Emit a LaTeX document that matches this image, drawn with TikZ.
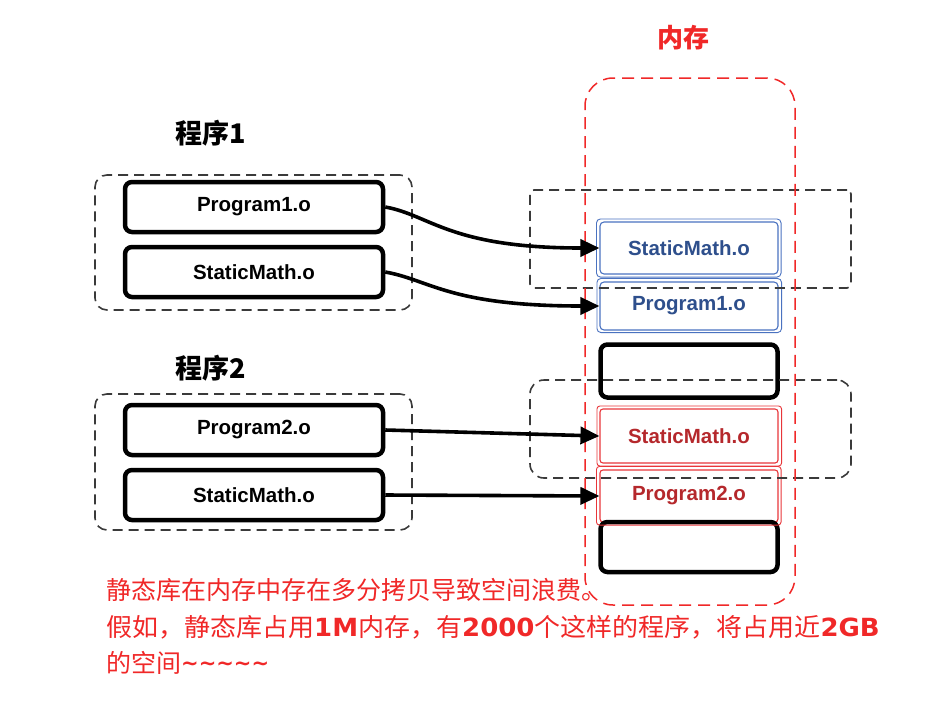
\documentclass[tikz,border=0pt]{standalone}
\usepackage{fontspec}
\setmainfont{Liberation Sans}
\newfontfamily\cjk{Noto Sans CJK SC}
\newfontfamily\latb{DejaVu Sans}
\usetikzlibrary{arrows.meta}
\definecolor{blueline}{HTML}{4A72C0}
\definecolor{bluetext}{HTML}{2E4F8C}
\definecolor{redline}{HTML}{E8363A}
\definecolor{redtext}{HTML}{B5282C}
\definecolor{dashgray}{HTML}{3A3A3A}
\definecolor{memred}{HTML}{F02828}
\begin{document}
\begin{tikzpicture}[x=1pt,y=-1pt,
  lbl/.style={font=\fontsize{20.5}{22}\selectfont\bfseries},
  blk/.style={draw=black, line width=4.5pt, rounded corners=7pt, inner sep=0pt, lbl},
  bluebox/.style={draw=blueline, line width=1.1pt, rounded corners=4pt, inner sep=0pt, lbl, text=bluetext, minimum width=178pt},
  redbox/.style={draw=redline, line width=1.1pt, rounded corners=3pt, inner sep=0pt, lbl, text=redtext, minimum width=178pt},
  grp/.style={draw=dashgray, line width=1.6pt, dash pattern=on 10pt off 6pt, rounded corners=12pt, inner sep=0pt},
  arr/.style={draw=black, line width=3.6pt, -{Triangle[length=19pt,width=17pt]}},
  ttl/.style={font=\cjk\bfseries\fontsize{27}{30}\selectfont},
  note/.style={anchor=west, text=memred, font=\cjk\fontsize{25}{30}\selectfont, inner sep=0pt}
]
\useasboundingbox (0,0) rectangle (939,702);

% titles
\node[ttl, text=memred, font=\cjk\bfseries\fontsize{26}{30}\selectfont] (memt) at (683,38) {内存};
\node[ttl] (t1) at (211,133) {程序1};
\node[ttl] (t2) at (211,368) {程序2};

% left boxes
\node[blk, minimum width=258pt, minimum height=50pt] (p1) at (254,207) {Program1.o};
\node[blk, minimum width=258pt, minimum height=50pt] (s1) at (254,272) {StaticMath.o};
\node[blk, minimum width=258pt, minimum height=50pt] (p2) at (254,430) {Program2.o};
\node[blk, minimum width=258pt, minimum height=50pt] (s2) at (254,495) {StaticMath.o};

% memory boxes
\node[bluebox, minimum height=52pt] (ms1) at (689,248) {StaticMath.o};
\node[bluebox, minimum height=48pt] (mp1) at (689,306) {Program1.o};
\node[blk, minimum width=177pt, minimum height=53pt] (e1) at (689,371) {};
\node[redbox, minimum height=54pt] (ms2) at (689,436) {StaticMath.o};
\node[redbox, minimum height=52pt] (mp2) at (689,496) {Program2.o};
\node[blk, minimum width=177pt, minimum height=50pt] (e2) at (689,547) {};

% sketchy second strokes
\draw[blueline, line width=0.9pt, rounded corners=4pt] ([xshift=-3pt,yshift=2.5pt]ms1.north west) rectangle ([xshift=2.5pt,yshift=-2.5pt]ms1.south east);
\draw[blueline, line width=0.9pt, rounded corners=4pt] ([xshift=-2.5pt,yshift=3pt]mp1.north west) rectangle ([xshift=3pt,yshift=-2pt]mp1.south east);
\draw[redline, line width=0.9pt, rounded corners=3pt] ([xshift=-2.5pt,yshift=2.5pt]ms2.north west) rectangle ([xshift=3pt,yshift=-2.5pt]ms2.south east);
\draw[redline, line width=0.9pt, rounded corners=3pt] ([xshift=-3pt,yshift=3pt]mp2.north west) rectangle ([xshift=2.5pt,yshift=-2.5pt]mp2.south east);

% dashed groups
\node[grp, minimum width=317pt, minimum height=135pt] (g1) at (253.5,242.5) {};
\node[grp, minimum width=317pt, minimum height=136pt] (g2) at (253.5,462) {};
\node[grp, rounded corners=4pt, minimum width=321pt, minimum height=98pt] (g3) at (690.5,239) {};
\node[grp, rounded corners=14pt, minimum width=321pt, minimum height=98pt] (g4) at (690.5,429) {};
\node[draw=memred, line width=1.5pt, dash pattern=on 12pt off 7pt, rounded corners=28pt, inner sep=0pt, minimum width=210pt, minimum height=527pt] (mem) at (690,341.5) {};

% arrows
\draw[arr] (p1.east) .. controls +(45,8) and +(-150,0) .. (ms1.west);
\draw[arr] (s1.east) .. controls +(45,8) and +(-150,0) .. (mp1.west);
\draw[arr] (p2.east) -- (ms2.west);
\draw[arr] (s2.east) -- (mp2.west);

% note
\node[note] (n1) at (106,590) {静态库在内存中存在多分拷贝导致空间浪费。};
\node[note] (n2) at (106,627) {\scalebox{1.04}[1]{假如，静态库占用{\latb\bfseries 1M}内存，有{\latb\bfseries 2000}个这样的程序，将占用近{\latb\bfseries 2GB}}};
\node[note] (n3) at (106,663) {的空间{\latb\bfseries\fontsize{21}{22}\selectfont\raisebox{2pt}{\textasciitilde\textasciitilde\textasciitilde\textasciitilde\textasciitilde}}};
\end{tikzpicture}
\end{document}
